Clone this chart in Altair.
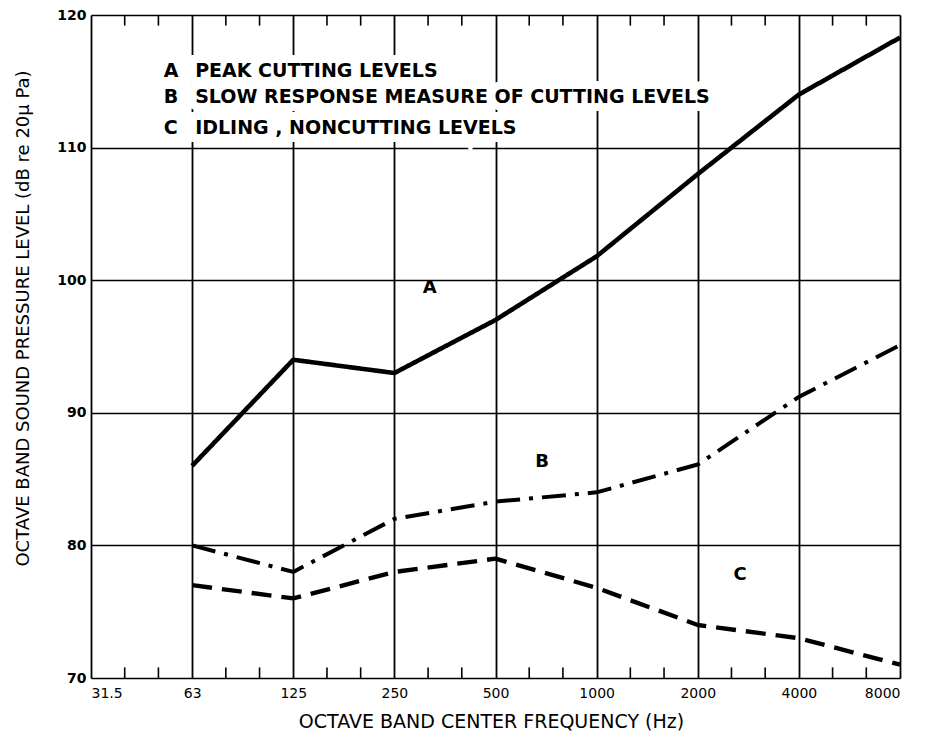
import altair as alt
import pandas as pd

freq_labels = ["31.5", "63", "125", "250", "500", "1000", "2000", "4000", "8000"]
series_freqs = ["63", "125", "250", "500", "1000", "2000", "4000", "8000"]
peak_cutting = [86, 94, 93, 97, 101.8, 108, 114, 118.3]
slow_response = [80, 78, 82, 83.3, 84, 86.1, 91.2, 95.1]
idling = [77, 76, 78, 79, 76.8, 74, 73, 71]

legend_keys = ["A", "B", "C"]
legend_texts = ["PEAK CUTTING LEVELS", "SLOW RESPONSE MEASURE OF CUTTING LEVELS",
                "IDLING , NONCUTTING LEVELS"]
legend_y = [115.8, 113.8, 111.5]

curve_labels = ["A", "B", "C"]
curve_label_x = ["250", "500", "2000"]
curve_label_offset = [0.35, 0.46, 0.42]
curve_label_y = [99.4, 86.3, 77.8]

FONT = "DejaVu Sans"
idx = {f: i for i, f in enumerate(freq_labels)}

rows = []
for name, vals in [("A", peak_cutting), ("B", slow_response), ("C", idling)]:
    for f, v in zip(series_freqs, vals):
        rows.append({"series": name, "xi": idx[f], "level": v})
df = pd.DataFrame(rows)

label_expr = "[" + ",".join("'%s'" % s for s in freq_labels) + "][datum.value]"

x_scale = alt.Scale(domain=[0, len(freq_labels) - 1], nice=False, zero=False)
y_scale = alt.Scale(domain=[70, 120], nice=False, zero=False)

x_axis = alt.Axis(values=list(range(len(freq_labels))), labelExpr=label_expr,
                  grid=True, gridColor="black", gridWidth=1.8, gridOpacity=1,
                  domain=False, ticks=False, labelFont=FONT, labelFontSize=14,
                  labelColor="black", labelPadding=8,
                  title="OCTAVE BAND CENTER FREQUENCY  (Hz)", titleFont=FONT,
                  titleFontSize=19, titleFontWeight="normal", titleColor="black",
                  titlePadding=12, titleX=400)
y_axis = alt.Axis(values=[70, 80, 90, 100, 110, 120], grid=True, gridColor="black",
                  gridWidth=1.6, gridOpacity=1, domain=False, ticks=False,
                  labelFont=FONT, labelFontSize=14, labelFontWeight="bold",
                  labelColor="black", labelPadding=5,
                  title="OCTAVE BAND SOUND PRESSURE LEVEL (dB re 20\u03bc Pa)",
                  titleFont=FONT, titleFontSize=18, titleFontWeight="normal",
                  titleColor="black", titleX=-59, titleY=303)

base = alt.Chart(df)

grid_layer = alt.Chart(pd.DataFrame({"xi": [0], "level": [70]})).mark_point(opacity=0).encode(
    x=alt.X("xi:Q", scale=x_scale, axis=x_axis),
    y=alt.Y("level:Q", scale=y_scale, axis=y_axis),
)

# minor ticks (two per octave) on bottom and top
minor = []
for i in range(len(freq_labels) - 1):
    for k in (1, 2):
        minor.append({"xi": i + k / 3.0})
minor_df = pd.DataFrame(minor)
bottom_ticks = alt.Chart(minor_df).mark_rule(color="black", strokeWidth=1.6).encode(
    x="xi:Q", y=alt.datum(70), y2=alt.datum(70.8))
top_ticks = alt.Chart(minor_df).mark_rule(color="black", strokeWidth=1.6).encode(
    x="xi:Q", y=alt.datum(120), y2=alt.datum(119.2))

def line(name, dash, width):
    return base.transform_filter(alt.datum.series == name).mark_line(
        color="black", strokeWidth=width, strokeDash=dash, strokeCap="butt",
        strokeJoin="round").encode(x="xi:Q", y="level:Q")

line_a = line("A", [1, 0], 4.6)
line_b = line("B", [24, 9, 4, 9], 4.0)
line_c = line("C", [20, 10], 4.4)

LEG_SIZE = 19
leg_df = pd.DataFrame({"key": legend_keys, "text": legend_texts, "level": legend_y})
leg_halo = alt.Chart(leg_df).mark_text(align="left", baseline="middle", font=FONT,
                                       fontSize=LEG_SIZE, fontWeight="bold",
                                       stroke="white", strokeWidth=16,
                                       fill="white").encode(
    x=alt.datum(1.03), y="level:Q", text="text:N")
leg_text = alt.Chart(leg_df).mark_text(align="left", baseline="middle", font=FONT,
                                       fontSize=LEG_SIZE, fontWeight="bold",
                                       color="black").encode(
    x=alt.datum(1.03), y="level:Q", text="text:N")
leg_key_halo = alt.Chart(leg_df).mark_text(align="left", baseline="middle", font=FONT,
                                           fontSize=LEG_SIZE, fontWeight="bold",
                                           stroke="white", strokeWidth=16,
                                           fill="white").encode(
    x=alt.datum(0.72), y="level:Q", text="key:N")
leg_key = alt.Chart(leg_df).mark_text(align="left", baseline="middle", font=FONT,
                                      fontSize=LEG_SIZE, fontWeight="bold",
                                      color="black").encode(
    x=alt.datum(0.72), y="level:Q", text="key:N")

cl_df = pd.DataFrame({"lab": curve_labels,
                      "xi": [idx[f] + o for f, o in zip(curve_label_x, curve_label_offset)],
                      "level": curve_label_y})
curve_text = alt.Chart(cl_df).mark_text(font=FONT, fontSize=18, fontWeight="bold",
                                        color="black", baseline="middle",
                                        align="center").encode(
    x="xi:Q", y="level:Q", text="lab:N")

chart = alt.layer(
    grid_layer, leg_halo, leg_key_halo, bottom_ticks, top_ticks,
    line_a, line_b, line_c, leg_text, leg_key, curve_text
).properties(
    width=809, height=663,
    padding={"left": 6, "top": 0, "right": 5, "bottom": 5},
).configure_view(stroke="black", strokeWidth=2.6).configure(background="white")

chart.save("out.html", embed_options={"renderer": "svg", "actions": False})
